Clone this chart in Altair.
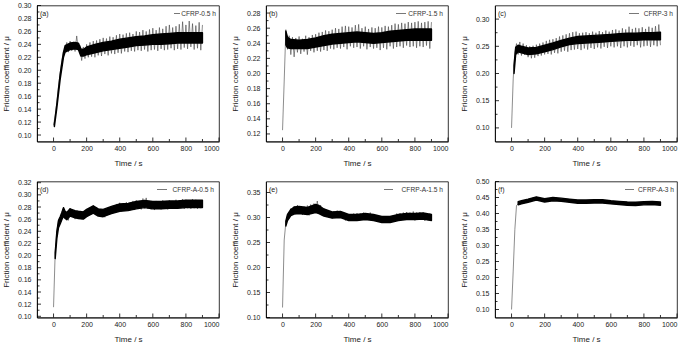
import altair as alt
import pandas as pd

FONT = "Liberation Sans"
W, H = 182, 136

# ---------------- data ----------------
TIME = list(range(0, 910, 10))

MU_A = [0.115, 0.130, 0.150, 0.175, 0.195, 0.215, 0.228, 0.232, 0.243, 0.228,
        0.245, 0.230, 0.244, 0.229, 0.253, 0.231, 0.238, 0.215, 0.236, 0.218,
        0.240, 0.220, 0.243, 0.221, 0.245, 0.220, 0.246, 0.223, 0.248, 0.222,
        0.250, 0.225, 0.249, 0.223, 0.252, 0.226, 0.251, 0.225, 0.254, 0.227,
        0.256, 0.226, 0.255, 0.229, 0.257, 0.228, 0.258, 0.230, 0.256, 0.229,
        0.260, 0.231, 0.259, 0.230, 0.262, 0.232, 0.260, 0.229, 0.263, 0.231,
        0.265, 0.232, 0.262, 0.230, 0.266, 0.233, 0.264, 0.231, 0.268, 0.232,
        0.270, 0.234, 0.266, 0.231, 0.268, 0.233, 0.271, 0.232, 0.275, 0.235,
        0.270, 0.233, 0.276, 0.236, 0.272, 0.232, 0.269, 0.234, 0.274, 0.231,
        0.270]
MU_B = [0.125, 0.190, 0.258, 0.232, 0.250, 0.225, 0.248, 0.222, 0.247, 0.228,
        0.249, 0.226, 0.246, 0.229, 0.250, 0.225, 0.248, 0.230, 0.251, 0.228,
        0.252, 0.230, 0.254, 0.229, 0.255, 0.231, 0.257, 0.230, 0.256, 0.233,
        0.258, 0.232, 0.260, 0.234, 0.259, 0.233, 0.262, 0.235, 0.263, 0.232,
        0.262, 0.236, 0.261, 0.234, 0.264, 0.235, 0.265, 0.233, 0.260, 0.236,
        0.262, 0.232, 0.259, 0.235, 0.261, 0.233, 0.260, 0.234, 0.262, 0.231,
        0.261, 0.234, 0.263, 0.232, 0.262, 0.236, 0.264, 0.233, 0.266, 0.235,
        0.265, 0.236, 0.267, 0.234, 0.266, 0.237, 0.268, 0.235, 0.267, 0.236,
        0.268, 0.234, 0.269, 0.236, 0.267, 0.235, 0.268, 0.237, 0.269, 0.233,
        0.268]
MU_C = [0.100, 0.190, 0.238, 0.255, 0.235, 0.258, 0.233, 0.255, 0.234, 0.252,
        0.230, 0.250, 0.228, 0.251, 0.229, 0.253, 0.232, 0.255, 0.233, 0.257,
        0.235, 0.260, 0.236, 0.262, 0.235, 0.263, 0.238, 0.265, 0.237, 0.268,
        0.240, 0.270, 0.242, 0.272, 0.240, 0.274, 0.243, 0.276, 0.244, 0.277,
        0.245, 0.274, 0.243, 0.275, 0.246, 0.276, 0.244, 0.274, 0.247, 0.277,
        0.245, 0.275, 0.248, 0.278, 0.246, 0.276, 0.249, 0.279, 0.247, 0.277,
        0.250, 0.280, 0.248, 0.281, 0.250, 0.279, 0.247, 0.283, 0.250, 0.281,
        0.248, 0.286, 0.251, 0.282, 0.249, 0.284, 0.252, 0.283, 0.248, 0.285,
        0.250, 0.282, 0.251, 0.286, 0.249, 0.284, 0.252, 0.287, 0.250, 0.290,
        0.252]
MU_D = [0.115, 0.205, 0.240, 0.258, 0.255, 0.270, 0.279, 0.262, 0.272, 0.258,
        0.278, 0.264, 0.274, 0.260, 0.272, 0.262, 0.273, 0.260, 0.272, 0.263,
        0.275, 0.266, 0.278, 0.268, 0.282, 0.270, 0.279, 0.265, 0.276, 0.266,
        0.275, 0.263, 0.277, 0.268, 0.280, 0.270, 0.282, 0.272, 0.285, 0.274,
        0.287, 0.273, 0.286, 0.275, 0.288, 0.274, 0.287, 0.276, 0.290, 0.275,
        0.291, 0.277, 0.290, 0.276, 0.294, 0.278, 0.295, 0.277, 0.290, 0.276,
        0.289, 0.275, 0.290, 0.277, 0.289, 0.276, 0.291, 0.277, 0.290, 0.276,
        0.291, 0.277, 0.290, 0.278, 0.292, 0.277, 0.291, 0.278, 0.293, 0.277,
        0.292, 0.278, 0.291, 0.277, 0.293, 0.278, 0.292, 0.277, 0.291, 0.278,
        0.290]
MU_E = [0.120, 0.255, 0.290, 0.305, 0.298, 0.318, 0.306, 0.322, 0.308, 0.325,
        0.307, 0.323, 0.305, 0.322, 0.306, 0.324, 0.304, 0.326, 0.307, 0.328,
        0.310, 0.333, 0.308, 0.325, 0.304, 0.318, 0.302, 0.315, 0.300, 0.313,
        0.298, 0.312, 0.300, 0.314, 0.301, 0.313, 0.299, 0.310, 0.294, 0.306,
        0.293, 0.307, 0.294, 0.308, 0.295, 0.309, 0.294, 0.308, 0.296, 0.310,
        0.295, 0.309, 0.296, 0.310, 0.295, 0.307, 0.293, 0.304, 0.291, 0.302,
        0.290, 0.301, 0.289, 0.300, 0.290, 0.302, 0.291, 0.305, 0.293, 0.308,
        0.294, 0.309, 0.295, 0.310, 0.296, 0.311, 0.295, 0.310, 0.296, 0.312,
        0.294, 0.310, 0.295, 0.311, 0.296, 0.310, 0.293, 0.309, 0.294, 0.308,
        0.293]
MU_F = [0.100, 0.220, 0.350, 0.425, 0.430, 0.438, 0.432, 0.437, 0.434, 0.440,
        0.436, 0.442, 0.438, 0.446, 0.444, 0.450, 0.445, 0.446, 0.440, 0.443,
        0.438, 0.445, 0.440, 0.447, 0.442, 0.449, 0.443, 0.450, 0.442, 0.447,
        0.440, 0.446, 0.439, 0.445, 0.438, 0.443, 0.437, 0.442, 0.436, 0.441,
        0.433, 0.440, 0.433, 0.440, 0.434, 0.441, 0.434, 0.440, 0.435, 0.441,
        0.434, 0.442, 0.436, 0.443, 0.435, 0.441, 0.434, 0.439, 0.432, 0.438,
        0.431, 0.437, 0.430, 0.436, 0.430, 0.435, 0.429, 0.435, 0.428, 0.434,
        0.428, 0.433, 0.427, 0.432, 0.426, 0.432, 0.427, 0.434, 0.428, 0.435,
        0.429, 0.437, 0.430, 0.438, 0.429, 0.436, 0.428, 0.435, 0.427, 0.434,
        0.428]

# dense (dark) core band of each trace: time, lower edge, upper edge
CORE_T_A = [5, 20, 40, 60, 70, 100, 130, 150, 165, 180, 200, 250, 300, 350, 400,
            450, 500, 550, 600, 650, 700, 750, 800, 850, 900]
CORE_LO_A = [0.113, 0.142, 0.186, 0.220, 0.228, 0.232, 0.233, 0.232, 0.222, 0.222,
             0.224, 0.227, 0.230, 0.232, 0.234, 0.236, 0.238, 0.239, 0.240, 0.240,
             0.241, 0.242, 0.242, 0.242, 0.242]
CORE_HI_A = [0.117, 0.148, 0.194, 0.228, 0.238, 0.242, 0.243, 0.242, 0.233, 0.232,
             0.236, 0.240, 0.243, 0.245, 0.248, 0.250, 0.252, 0.253, 0.255, 0.256,
             0.257, 0.258, 0.258, 0.258, 0.258]
CORE_T_B = [20, 30, 50, 100, 150, 200, 250, 300, 350, 400, 450, 500, 550, 600,
            650, 700, 750, 800, 850, 900]
CORE_LO_B = [0.238, 0.234, 0.233, 0.233, 0.233, 0.235, 0.237, 0.239, 0.240, 0.241,
             0.242, 0.241, 0.240, 0.241, 0.242, 0.243, 0.244, 0.244, 0.244, 0.244]
CORE_HI_B = [0.256, 0.248, 0.245, 0.244, 0.245, 0.247, 0.250, 0.252, 0.253, 0.254,
             0.255, 0.254, 0.253, 0.254, 0.256, 0.257, 0.258, 0.259, 0.259, 0.259]
CORE_T_C = [15, 25, 40, 60, 100, 150, 200, 250, 300, 350, 400, 450, 500, 550, 600,
            650, 700, 750, 800, 850, 900]
CORE_LO_C = [0.200, 0.235, 0.240, 0.238, 0.235, 0.236, 0.240, 0.244, 0.249, 0.253,
             0.255, 0.256, 0.257, 0.258, 0.259, 0.260, 0.261, 0.261, 0.262, 0.262,
             0.262]
CORE_HI_C = [0.215, 0.248, 0.252, 0.250, 0.247, 0.248, 0.252, 0.256, 0.261, 0.265,
             0.268, 0.269, 0.270, 0.271, 0.272, 0.273, 0.274, 0.274, 0.275, 0.275,
             0.276]
CORE_T_D = [10, 20, 30, 40, 50, 60, 70, 80, 100, 130, 150, 180, 200, 240, 270,
            300, 350, 400, 450, 500, 550, 600, 650, 700, 750, 800, 850, 900]
CORE_LO_D = [0.195, 0.228, 0.246, 0.252, 0.259, 0.265, 0.261, 0.259, 0.265, 0.262,
             0.261, 0.260, 0.264, 0.270, 0.265, 0.264, 0.269, 0.273, 0.274, 0.277,
             0.279, 0.277, 0.277, 0.278, 0.278, 0.279, 0.279, 0.279]
CORE_HI_D = [0.205, 0.240, 0.258, 0.264, 0.271, 0.279, 0.273, 0.271, 0.277, 0.274,
             0.273, 0.272, 0.276, 0.282, 0.277, 0.276, 0.281, 0.285, 0.286, 0.289,
             0.291, 0.289, 0.289, 0.290, 0.290, 0.291, 0.291, 0.291]
CORE_T_E = [20, 30, 50, 70, 100, 150, 200, 220, 250, 300, 350, 400, 450, 500,
            550, 600, 650, 700, 750, 800, 850, 900]
CORE_LO_E = [0.283, 0.294, 0.304, 0.307, 0.308, 0.306, 0.310, 0.308, 0.303, 0.299,
             0.300, 0.294, 0.294, 0.296, 0.294, 0.290, 0.290, 0.294, 0.296, 0.296,
             0.297, 0.294]
CORE_HI_E = [0.293, 0.306, 0.316, 0.321, 0.322, 0.320, 0.326, 0.324, 0.317, 0.311,
             0.312, 0.306, 0.306, 0.308, 0.306, 0.302, 0.302, 0.306, 0.308, 0.308,
             0.309, 0.306]
CORE_T_F = [40, 60, 100, 150, 200, 250, 300, 350, 400, 450, 500, 550, 600, 650,
            700, 750, 800, 850, 900]
CORE_LO_F = [0.427, 0.430, 0.435, 0.442, 0.436, 0.440, 0.438, 0.435, 0.432, 0.432,
             0.433, 0.433, 0.430, 0.428, 0.426, 0.425, 0.427, 0.428, 0.426]
CORE_HI_F = [0.437, 0.440, 0.445, 0.452, 0.446, 0.450, 0.448, 0.445, 0.442, 0.442,
             0.443, 0.443, 0.440, 0.438, 0.436, 0.435, 0.437, 0.438, 0.436]

X_MAJOR = [0, 200, 400, 600, 800, 1000]
X_MINOR = [100, 300, 500, 700, 900]

Y_MAJ_A = [0.10, 0.12, 0.14, 0.16, 0.18, 0.20, 0.22, 0.24, 0.26, 0.28, 0.30]
Y_MIN_A = [0.11, 0.13, 0.15, 0.17, 0.19, 0.21, 0.23, 0.25, 0.27, 0.29]
Y_MAJ_B = [0.12, 0.14, 0.16, 0.18, 0.20, 0.22, 0.24, 0.26, 0.28]
Y_MIN_B = [0.13, 0.15, 0.17, 0.19, 0.21, 0.23, 0.25, 0.27]
Y_MAJ_C = [0.10, 0.15, 0.20, 0.25, 0.30]
Y_MIN_C = [0.125, 0.175, 0.225, 0.275]
Y_MAJ_D = [0.10, 0.12, 0.14, 0.16, 0.18, 0.20, 0.22, 0.24, 0.26, 0.28, 0.30, 0.32]
Y_MIN_D = [0.11, 0.13, 0.15, 0.17, 0.19, 0.21, 0.23, 0.25, 0.27, 0.29, 0.31]
Y_MAJ_E = [0.10, 0.15, 0.20, 0.25, 0.30, 0.35]
Y_MIN_E = [0.125, 0.175, 0.225, 0.275, 0.325]
Y_MAJ_F = [0.10, 0.15, 0.20, 0.25, 0.30, 0.35, 0.40, 0.45, 0.50]
Y_MIN_F = [0.125, 0.175, 0.225, 0.275, 0.325, 0.375, 0.425, 0.475]

TAGS = ["(a)", "(b)", "(c)", "(d)", "(e)", "(f)"]
NAMES = ["CFRP-0.5 h", "CFRP-1.5 h", "CFRP-3 h", "CFRP-A-0.5 h", "CFRP-A-1.5 h", "CFRP-A-3 h"]
Y_DOMAINS = [[0.09, 0.30], [0.11, 0.29], [0.075, 0.325],
             [0.098, 0.322], [0.10, 0.372], [0.075, 0.50]]

X_TITLE = "Time / s"
Y_TITLE = "Friction coefficient / \u03bc"


def panel(mu, core_t, core_lo, core_hi, ydom, ymaj, ymin, tag, name, leg):
    xs = alt.Scale(domain=[-100, 1000], nice=False, zero=False)
    ys = alt.Scale(domain=ydom, nice=False, zero=False)
    xax = alt.Axis(values=X_MAJOR, format="d", title=X_TITLE, ticks=False,
                   labelPadding=3, titlePadding=8, grid=False, titleFontWeight="normal")
    yax = alt.Axis(values=ymaj, format=".2f", title=Y_TITLE, ticks=False,
                   labelPadding=6, titlePadding=7, grid=False, titleFontWeight="normal")
    xa = alt.X("t:Q", scale=xs, axis=xax)
    ya = alt.Y("mu:Q", scale=ys, axis=yax)

    zig = alt.Chart(pd.DataFrame({"t": TIME, "mu": mu})).mark_line(
        color="#404040", strokeWidth=0.6, clip=True
    ).encode(x=xa, y=ya)
    core = alt.Chart(pd.DataFrame({"t": core_t, "lo": core_lo, "hi": core_hi})).mark_area(
        color="#000000", stroke="#000000", strokeWidth=1.4, strokeJoin="round", clip=True
    ).encode(x=xa, y=alt.Y("lo:Q", scale=ys, axis=yax), y2="hi:Q")

    xt1 = alt.Chart(pd.DataFrame({"t": X_MAJOR})).mark_rule(color="#000", strokeWidth=0.8).encode(
        x=xa, y=alt.value(H), y2=alt.value(H - 4))
    xt2 = alt.Chart(pd.DataFrame({"t": X_MINOR})).mark_rule(color="#000", strokeWidth=0.8).encode(
        x=xa, y=alt.value(H), y2=alt.value(H - 2.5))
    yt1 = alt.Chart(pd.DataFrame({"mu": ymaj})).mark_rule(color="#000", strokeWidth=0.8).encode(
        y=ya, x=alt.value(0), x2=alt.value(4))
    yt2 = alt.Chart(pd.DataFrame({"mu": ymin})).mark_rule(color="#000", strokeWidth=0.8).encode(
        y=ya, x=alt.value(0), x2=alt.value(2.5))

    one = pd.DataFrame({"k": [0]})
    lab = alt.Chart(one).mark_text(align="left", baseline="middle", fontSize=7, font=FONT,
                                   color="#222").encode(
        x=alt.value(3), y=alt.value(8), text=alt.value(tag))
    legt = alt.Chart(one).mark_text(align="right", baseline="middle", fontSize=6.6, font=FONT,
                                    color="#333").encode(
        x=alt.value(W - leg[2]), y=alt.value(8), text=alt.value(name))
    legl = alt.Chart(one).mark_rule(color="#555", strokeWidth=0.8).encode(
        x=alt.value(W - leg[0]), x2=alt.value(W - leg[1]), y=alt.value(8))

    return alt.layer(zig, core, xt1, xt2, yt1, yt2, lab, legt, legl).properties(width=W, height=H)


pa = panel(MU_A, CORE_T_A, CORE_LO_A, CORE_HI_A, Y_DOMAINS[0], Y_MAJ_A, Y_MIN_A, TAGS[0], NAMES[0], (45, 39, 3))
pb = panel(MU_B, CORE_T_B, CORE_LO_B, CORE_HI_B, Y_DOMAINS[1], Y_MAJ_B, Y_MIN_B, TAGS[1], NAMES[1], (52, 42, 5))
pc = panel(MU_C, CORE_T_C, CORE_LO_C, CORE_HI_C, Y_DOMAINS[2], Y_MAJ_C, Y_MIN_C, TAGS[2], NAMES[2], (48, 38, 4))
pd_ = panel(MU_D, CORE_T_D, CORE_LO_D, CORE_HI_D, Y_DOMAINS[3], Y_MAJ_D, Y_MIN_D, TAGS[3], NAMES[3], (62, 52, 5))
pe = panel(MU_E, CORE_T_E, CORE_LO_E, CORE_HI_E, Y_DOMAINS[4], Y_MAJ_E, Y_MIN_E, TAGS[4], NAMES[4], (64, 55, 5))
pf = panel(MU_F, CORE_T_F, CORE_LO_F, CORE_HI_F, Y_DOMAINS[5], Y_MAJ_F, Y_MIN_F, TAGS[5], NAMES[5], (52, 43, 3))

row1 = alt.hconcat(pa, pb, pc, spacing=10)
row2 = alt.hconcat(pd_, pe, pf, spacing=10)

chart = alt.vconcat(row1, row2, spacing=8).properties(
    padding={"left": 1, "top": 0.5, "right": 0, "bottom": 0},
    background="white",
).configure_view(
    stroke="#000", strokeWidth=0.8
).configure_axis(
    domainColor="#000", domainWidth=0.8,
    labelFont=FONT, labelFontSize=7, labelColor="#222",
    titleFont=FONT, titleFontSize=8, titleFontWeight="normal", titleColor="#222",
)

chart.save("out.html", embed_options={"renderer": "svg", "actions": False})
